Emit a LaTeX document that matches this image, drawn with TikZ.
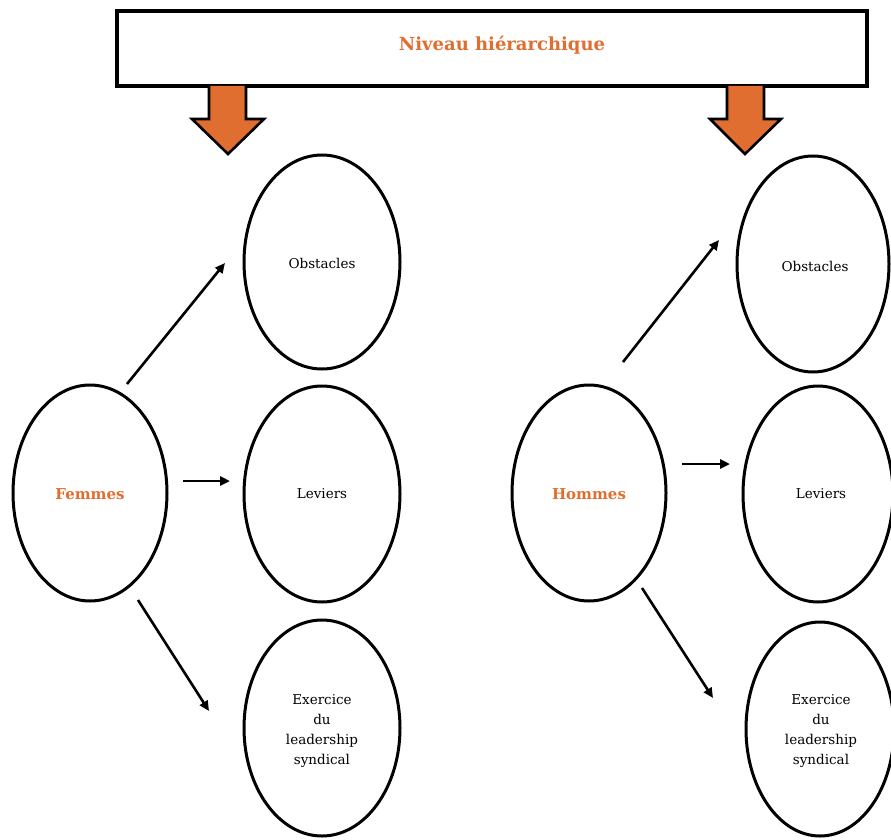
\documentclass[tikz,border=0pt]{standalone}
\usepackage{fontspec}
\setmainfont{DejaVu Serif}
\usetikzlibrary{arrows.meta}
\definecolor{accent}{RGB}{224,110,48}
\begin{document}
\begin{tikzpicture}[x=1pt,y=-1pt,
  item/.style={font=\fontsize{13.5}{20}\selectfont,align=center,text=black},
  gender/.style={font=\fontsize{15}{18}\selectfont\bfseries,text=accent},
  link/.style={line width=2.6pt,-{Triangle[length=10pt,width=9pt]}},
  bigarrow/.style={draw=black,line width=2.6pt,fill=accent,line join=miter}]
\useasboundingbox (0,0) rectangle (891,840);

% header box
\node[draw=black,line width=3.2pt,minimum width=750pt,minimum height=75pt,inner sep=0pt]
  (head) at (492,48.5) {};
\node[font=\fontsize{18}{21}\selectfont\bfseries,text=accent] (title) at (502,45) {Niveau hiérarchique};

% block arrows under the header
\draw[bigarrow] (209,86) -- (209,119) -- (192,119) -- (228,154) -- (264,119) -- (246,119) -- (246,86);
\draw[bigarrow] (727,86) -- (727,119) -- (710,119) -- (745,154) -- (781,119) -- (764,119) -- (764,86);

% ellipses
\newcommand{\bub}[4]{\draw[line width=3pt] (#1,#2) ellipse [x radius=#3,y radius=#4];}
\bub{90}{493}{77}{108}
\bub{322}{262}{78}{107}
\bub{322}{494}{78}{108}
\bub{322}{728}{78}{108}
\bub{589}{493}{77}{108}
\bub{813}{264}{76}{108}
\bub{818}{494}{75}{108}
\bub{820}{729}{74}{107}

\node[gender] (femmes) at (90,494) {Femmes};
\node[item] (obsL) at (322,263) {Obstacles};
\node[item] (levL) at (322,494) {Leviers};
\node[item] (exL) at (322,731) {Exercice\\du\\leadership\\syndical};

\node[gender] (hommes) at (589,494) {Hommes};
\node[item] (obsR) at (815,266) {Obstacles};
\node[item] (levR) at (821,494) {Leviers};
\node[item] (exR) at (821,731) {Exercice\\du\\leadership\\syndical};

% connector end points
\coordinate (fa) at (127,384); \coordinate (fb) at (225,263);
\coordinate (fc) at (183,481); \coordinate (fd) at (230,481);
\coordinate (fe) at (138,600); \coordinate (ff) at (209,711);
\coordinate (ha) at (623,362); \coordinate (hb) at (719,240);
\coordinate (hc) at (682,464); \coordinate (hd) at (730,464);
\coordinate (he) at (642,588); \coordinate (hf) at (713,698);

\draw[link] (fa) -- (fb);
\draw[link] (fc) -- (fd);
\draw[link] (fe) -- (ff);
\draw[link] (ha) -- (hb);
\draw[link] (hc) -- (hd);
\draw[link] (he) -- (hf);
\end{tikzpicture}
\end{document}
